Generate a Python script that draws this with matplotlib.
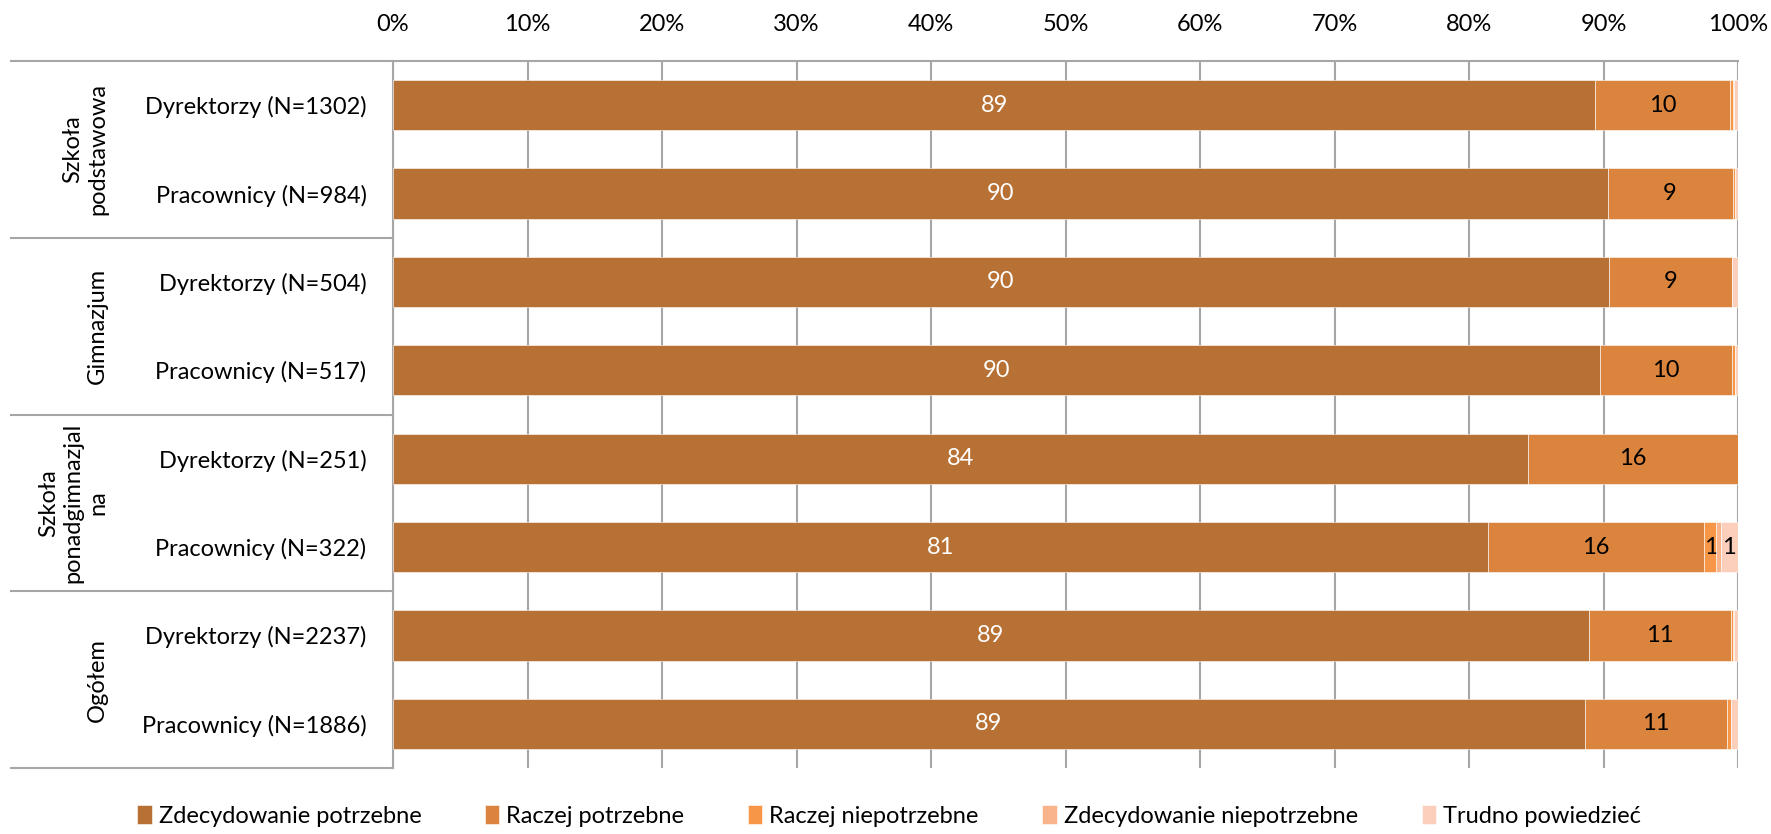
import matplotlib
matplotlib.use("Agg")
import matplotlib.pyplot as plt
import numpy as np

plt.rcParams['font.family'] = ['Lato', 'DejaVu Sans']

# kategorie (wiersze) i grupy
row_labels = ["Dyrektorzy (N=1302)", "Pracownicy (N=984)",
              "Dyrektorzy (N=504)", "Pracownicy (N=517)",
              "Dyrektorzy (N=251)", "Pracownicy (N=322)",
              "Dyrektorzy (N=2237)", "Pracownicy (N=1886)"]
group_labels = ["Szkoła\npodstawowa", "Gimnazjum", "Szkoła\nponadgimnazjal\nna", "Ogółem"]

series_names = ["Zdecydowanie potrzebne", "Raczej potrzebne", "Raczej niepotrzebne",
                "Zdecydowanie niepotrzebne", "Trudno powiedzieć"]
zdec_potrz = [89.4, 90.3, 90.4, 89.75, 84.4, 81.4, 88.9, 88.6]
racz_potrz = [10.0, 9.3, 9.15, 9.8, 15.6, 16.1, 10.6, 10.6]
racz_niep = [0.2, 0.2, 0.0, 0.2, 0.0, 0.9, 0.1, 0.3]
zdec_niep = [0.1, 0.0, 0.0, 0.0, 0.0, 0.3, 0.1, 0.0]
trudno = [0.3, 0.2, 0.45, 0.25, 0.0, 1.3, 0.3, 0.5]

colors = ["#B87134", "#DB843D", "#F79646", "#F9B48C", "#FBCFBB"]
label_colors = ["white", "black", "black", "black", "black"]

W, H = 1771, 834
fig = plt.figure(figsize=(W / 100, H / 100), dpi=100)
ax = fig.add_axes([393 / W, 1 - 768 / H, (1738 - 393) / W, (768 - 61) / H])

y = np.arange(len(row_labels))
left = np.zeros(len(row_labels))
for vals, col, name, lc in zip([zdec_potrz, racz_potrz, racz_niep, zdec_niep, trudno],
                               colors, series_names, label_colors):
    vals = np.array(vals)
    bars = ax.barh(y, vals, left=left, height=0.57, color=col, label=name,
                   edgecolor="white", linewidth=0.4, zorder=3)
    # etykiety tylko dla segmentów, które po zaokrągleniu dają co najmniej 1
    labels = ["%d" % max(1, round(v)) if v >= 0.75 else "" for v in vals]
    ax.bar_label(bars, labels=labels, label_type="center", color=lc, fontsize=17)
    left += vals

ax.set_xlim(0, 100)
ax.set_ylim(len(row_labels) - 0.5, -0.5)
ax.set_xticks(np.arange(0, 101, 10))
ax.set_xticklabels(["%d%%" % v for v in range(0, 101, 10)])
ax.xaxis.tick_top()
ax.tick_params(axis="x", length=0, pad=19, labelsize=17)
ax.set_yticks(y)
ax.set_yticklabels(row_labels)
ax.tick_params(axis="y", length=0, pad=19, labelsize=17)
ax.grid(axis="x", color="#A6A6A6", linewidth=1.5, zorder=0)

for s in ["right", "bottom"]:
    ax.spines[s].set_visible(False)
ax.spines["top"].set_color("#A6A6A6")
ax.spines["top"].set_linewidth(1.5)
ax.spines["left"].set_color("#A6A6A6")
ax.spines["left"].set_linewidth(1.5)

# linie oddzielające grupy po lewej stronie
tr = ax.get_yaxis_transform()
x0 = (11 - 393) / (1738 - 393)
for yy in [-0.5, 1.5, 3.5, 5.5, 7.5]:
    ax.plot([x0, 0], [yy, yy], color="#A6A6A6", lw=1.5, transform=tr, clip_on=False)

for i, g in enumerate(group_labels):
    ax.text((108 - 393) / (1738 - 393), 2 * i + 0.5, g, transform=tr, rotation=90,
            ha="right", va="center", multialignment="center", fontsize=17)

fig.legend(loc="upper center", bbox_to_anchor=(0.502, 1 - 800 / H), ncol=5, frameon=False,
           fontsize=17, handlelength=0.6, handleheight=0.9, handletextpad=0.3,
           columnspacing=2.7, borderaxespad=0, borderpad=0.2)

fig.savefig("out.png", dpi=100)
